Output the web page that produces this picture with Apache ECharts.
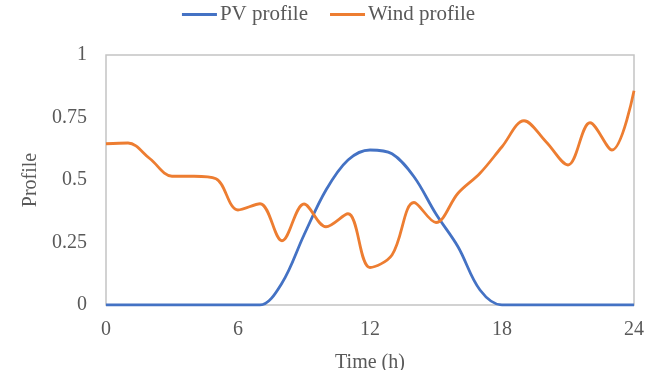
<!DOCTYPE html>
<html>
<head>
<meta charset="utf-8">
<script src="https://cdn.jsdelivr.net/npm/echarts@6/dist/echarts.min.js"></script>
<style>html,body{margin:0;padding:0;background:#fff}#c{width:657px;height:370px}</style>
</head>
<body>
<div id="c"></div>
<script>
const hours = [0,1,2,3,4,5,6,7,8,9,10,11,12,13,14,15,16,17,18,19,20,21,22,23,24];
const pvProfile = [0,0,0,0,0,0,0,0,0.088,0.28,0.46,0.58,0.62,0.605,0.513,0.364,0.233,0.06,0,0,0,0,0,0,0];
const windProfile = [0.645,0.648,0.585,0.515,0.515,0.505,0.38,0.405,0.257,0.404,0.313,0.365,0.15,0.2,0.41,0.33,0.447,0.527,0.633,0.737,0.653,0.56,0.729,0.62,0.857];
const xTicks = [0,6,12,18,24];
const yTickLabels = {0:'0',0.25:'0.25',0.5:'0.5',0.75:'0.75',1:'1'};

const font = 'Liberation Serif';
const chart = echarts.init(document.getElementById('c'));
chart.setOption({
  animation: false,
  legend: {
    top: -1, left: 'center', itemGap: 22, itemWidth: 35, itemHeight: 3, icon: 'rect',
    textStyle: {fontFamily: font, fontSize: 21, color: '#595959', padding: [0,0,0,-2]},
    data: ['PV profile', 'Wind profile']
  },
  grid: {left: 106, right: 23, top: 55, bottom: 65, show: true, borderColor: '#c4c4c4', borderWidth: 1.5,
    containLabel: false, outerBoundsMode: 'none'},
  xAxis: {
    type: 'value', min: 0, max: 24, interval: 6,
    name: 'Time (h)', nameLocation: 'middle', nameGap: 48,
    nameTextStyle: {fontFamily: font, fontSize: 20, color: '#595959'},
    axisLine: {show: false}, axisTick: {show: false}, splitLine: {show: false},
    axisLabel: {fontFamily: font, fontSize: 20, color: '#595959', margin: 15,
      formatter: v => xTicks.includes(v) ? String(v) : ''}
  },
  yAxis: {
    type: 'value', min: 0, max: 1, interval: 0.25,
    name: 'Profile', nameLocation: 'middle', nameGap: 60, nameRotate: 90,
    nameTextStyle: {fontFamily: font, fontSize: 20, color: '#595959'},
    axisLine: {show: false}, axisTick: {show: false}, splitLine: {show: false},
    axisLabel: {fontFamily: font, fontSize: 20, color: '#595959', margin: 19,
      formatter: v => yTickLabels[v] !== undefined ? yTickLabels[v] : ''}
  },
  series: [
    {name: 'PV profile', type: 'line', smooth: 0.35, showSymbol: false,
     lineStyle: {width: 2.8, color: '#4472C4'}, itemStyle: {color: '#4472C4'},
     data: hours.map((h, i) => [h, pvProfile[i]])},
    {name: 'Wind profile', type: 'line', smooth: 0.35, showSymbol: false,
     lineStyle: {width: 2.8, color: '#ED7D31'}, itemStyle: {color: '#ED7D31'},
     data: hours.map((h, i) => [h, windProfile[i]])}
  ]
});
</script>
</body>
</html>
